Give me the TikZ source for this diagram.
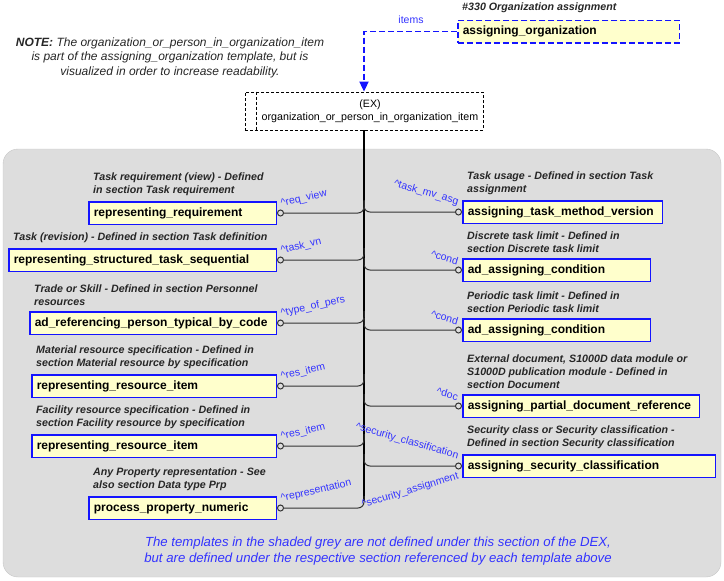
\documentclass[tikz,border=0pt]{standalone}
\usepackage{fontspec}
\setmainfont{Liberation Sans}
\usetikzlibrary{
	arrows.meta,
	calc,
	positioning,
}
\definecolor{tmplfill}{RGB}{255,255,204}
\definecolor{tmplblue}{RGB}{20,20,255}
\definecolor{roleblue}{RGB}{51,51,255}
\definecolor{shaded}{RGB}{221,221,221}
\tikzset{template/.style={
	draw=tmplblue,
	fill=tmplfill,
	line width=1.5pt,
	anchor=west,
	minimum height=22.5pt,
	inner xsep=5pt,
	inner ysep=0pt,
	text width=#1,
	align=left,
	font=\fontsize{12}{14}\selectfont\bfseries,
}}
\tikzset{comment/.style={
	anchor=south west,
	align=left,
	inner sep=0pt,
	text=black!85,
	font=\fontsize{10.67}{13}\selectfont\bfseries\itshape,
}}
\tikzset{role/.style={
	inner sep=0pt,
	text=roleblue,
	font=\fontsize{10.5}{12}\selectfont,
}}
\tikzset{role left/.style={
	role,
	anchor=south west,
	rotate=13,
}}
\tikzset{role right/.style={
	role,
	anchor=south east,
	rotate=-16,
}}
\tikzset{conn/.style={
	draw=black!80,
	line width=1pt,
	rounded corners=6pt,
	arrows={Circle[open,length=7pt,width=7pt]-},
}}

\begin{document}
\begin{tikzpicture}[x=1pt, y=-1pt]
\useasboundingbox (0,0) rectangle (724,581);

% shaded area
\fill[shaded, draw=gray!45, rounded corners=15pt] (3,149) rectangle (721,577);

% note
\node[align=center, inner sep=0pt, font=\fontsize{12}{14.5}\selectfont\itshape, text=black!85](note) at (170,57.5)
{\textbf{NOTE:} The organization\_or\_person\_in\_organization\_item\\is part of the assigning\_organization template, but is\\visualized in order to increase readability.};

% assigning_organization
\node[comment, anchor=west](aocomment) at (462,8) {\#330 Organization assignment};
\node[template=211.5pt, dash pattern=on 6pt off 3pt](ao) at (457,31.5) {assigning\_organization};

% EX
\node[draw, dashed, dash pattern=on 3pt off 2pt, line width=0.8pt, minimum width=238pt, minimum height=38pt](ex) at (364,111) {};
\draw[dash pattern=on 3pt off 2pt, line width=0.8pt] ($(ex.north west)+(12,0)$) -- ($(ex.south west)+(12,0)$);
\node[align=center, inner sep=0pt, font=\fontsize{10.67}{12.5}\selectfont](extext) at (370,111)
{(EX)\\organization\_or\_person\_in\_organization\_item};

% ao -> EX
\draw[tmplblue, line width=1.8pt, dash pattern=on 6pt off 3pt, -{Triangle[length=10pt,width=9pt]}]
(ao.west) -- (ao.west -| ex.north) -- (ex.north);
\node[role](items) at (411,20) {items};

% left templates
\node[template=177.5pt](L1) at (88,213) {representing\_requirement};
\node[template=257.5pt](L2) at (8,260) {representing\_structured\_task\_sequential};
\node[template=236.5pt](L3) at (29,323) {ad\_referencing\_person\_typical\_by\_code};
\node[template=234.5pt](L4) at (31,386) {representing\_resource\_item};
\node[template=234.5pt](L5) at (31,446) {representing\_resource\_item};
\node[template=177.5pt](L6) at (88,508) {process\_property\_numeric};

\node[comment](cL1) at ($(L1.north west)+(5,-5)$) {Task requirement (view) - Defined\\in section Task requirement};
\node[comment](cL2) at ($(L2.north west)+(5,-5)$) {Task (revision) - Defined in section Task definition};
\node[comment](cL3) at ($(L3.north west)+(5,-5)$) {Trade or Skill - Defined in section Personnel\\resources};
\node[comment](cL4) at ($(L4.north west)+(5,-5)$) {Material resource specification - Defined in\\section Material resource by specification};
\node[comment](cL5) at ($(L5.north west)+(5,-5)$) {Facility resource specification - Defined in\\section Facility resource by specification};
\node[comment](cL6) at ($(L6.north west)+(5,-5)$) {Any Property representation - See\\also section Data type Prp};

% right templates
\node[template=189.5pt](R1) at (462,212) {assigning\_task\_method\_version};
\node[template=177.5pt](R2) at (462,270) {ad\_assigning\_condition};
\node[template=177.5pt](R3) at (462,330) {ad\_assigning\_condition};
\node[template=226.5pt](R4) at (462,406) {assigning\_partial\_document\_reference};
\node[template=242.5pt](R5) at (462,466) {assigning\_security\_classification};

\node[comment](cR1) at ($(R1.north west)+(5,-5)$) {Task usage - Defined in section Task\\assignment};
\node[comment](cR2) at ($(R2.north west)+(5,-5)$) {Discrete task limit - Defined in\\section Discrete task limit};
\node[comment](cR3) at ($(R3.north west)+(5,-5)$) {Periodic task limit - Defined in\\section Periodic task limit};
\node[comment](cR4) at ($(R4.north west)+(5,-5)$) {External document, S1000D data module or\\S1000D publication module - Defined in\\section Document};
\node[comment](cR5) at ($(R5.north west)+(5,-5)$) {Security class or Security classification -\\Defined in section Security classification};

% trunk
\draw[line width=1.3pt] (ex.south) -- ($(L6.east -| ex.south)+(0,-7)$);

% left templates -> trunk
\foreach \t in {L1,L2,L3,L4,L5,L6}{
\draw[conn] (\t.east) -- (\t.east -| ex.south) -- ++(0,-12);
}
% trunk -> right templates
\foreach \t in {R1,R2,R3,R4,R5}{
\draw[conn] (\t.west) -- (\t.west -| ex.south) -- ++(0,-12);
}

% roles
\node[role left](rL1) at ($(L1.east)+(5,-4)$) {\textasciicircum req\_view};
\node[role left](rL2) at ($(L2.east)+(5,-4)$) {\textasciicircum task\_vn};
\node[role left](rL3) at ($(L3.east)+(5,-4)$) {\textasciicircum type\_of\_pers};
\node[role left](rL4) at ($(L4.east)+(5,-4)$) {\textasciicircum res\_item};
\node[role left](rL5) at ($(L5.east)+(5,-4)$) {\textasciicircum res\_item};
\node[role left](rL6) at ($(L6.east)+(5,-4)$) {\textasciicircum representation};

\node[role right](rR1) at ($(R1.west)+(-5,-5)$) {\textasciicircum task\_mv\_asg};
\node[role right](rR2) at ($(R2.west)+(-5,-5)$) {\textasciicircum cond};
\node[role right](rR3) at ($(R3.west)+(-5,-5)$) {\textasciicircum cond};
\node[role right](rR4) at ($(R4.west)+(-5,-5)$) {\textasciicircum doc};
\node[role right](rR5) at ($(R5.west)+(-5,-5)$) {\textasciicircum security\_classification};
\node[role, anchor=north east, rotate=17](rR5b) at ($(R5.west)+(-5,5)$) {\textasciicircum security\_assignment};

% footnote
\node[align=center, inner sep=0pt, text=roleblue, font=\fontsize{13.2}{16}\selectfont\itshape](footnote) at (378,551)
{The templates in the shaded grey are not defined under this section of the DEX,\\but are defined under the respective section referenced by each template above};

\end{tikzpicture}
\end{document}
